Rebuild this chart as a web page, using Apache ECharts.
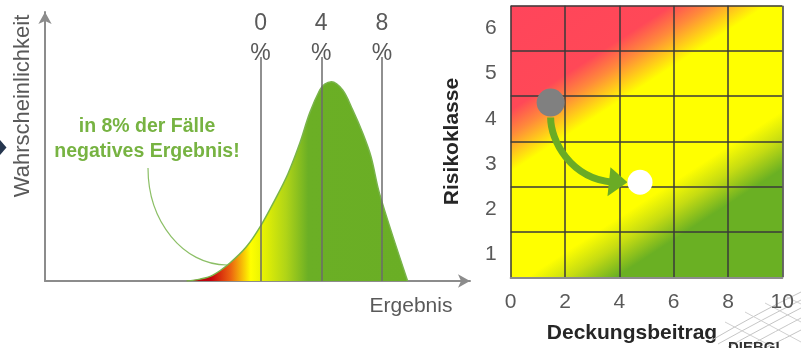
<!DOCTYPE html>
<html>
<head>
<meta charset="utf-8">
<script src="https://cdn.jsdelivr.net/npm/echarts@6/dist/echarts.min.js"></script>
<style>
  html, body { margin: 0; padding: 0; background: #fff; }
  #chart { width: 801px; height: 348px; }
</style>
</head>
<body>
<div id="chart"></div>
<script>
// Ergebnisverteilung: Ergebnis in %, Wahrscheinlichkeitsdichte in relativen Einheiten
const ergebnisX = [-4.87, -3.99, -3.14, -2.02, -0.92, 0, 0.94, 1.8, 2.59, 3.24, 3.9, 4.23, 4.67, 5.41, 6.07, 6.73, 7.28, 7.85, 9.69];
const dichte    = [0, 0.7, 2.2, 6.7, 12.8, 20.4, 30.1, 39.8, 51.3, 62.5, 71, 73.2, 74.1, 71, 63.6, 55, 46.2, 32.3, 0];
const prozentMarken = [0, 4, 8];
const hinweisZeilen = ['in 8% der Fälle', 'negatives Ergebnis!'];

// Portfolio-Matrix: Deckungsbeitrag gegen Risikoklasse
const deckungsTicks = [0, 2, 4, 6, 8, 10];
const risikoklassen = ['1', '2', '3', '4', '5', '6'];
const punktVorher  = [1.47, 4.36];   // [Deckungsbeitrag, Risikoklasse]
const punktNachher = [4.76, 2.6];

const FONT = '"Liberation Sans", Arial, sans-serif';
const GREY_TEXT = '#595959';
const AXIS_GREY = '#8c8c8c';

const chart = echarts.init(document.getElementById('chart'), null, { renderer: 'canvas' });

// Risikoklasse k liegt in der Mitte der k-ten Zeile (Zeilen von 0 bis 6)
const zeile = (k) => k - 0.5;

const verteilung = ergebnisX.map((x, i) => [x, dichte[i]]);

const meshCurve = (x1, y1, cx, cy, x2, y2, color) => ({
  type: 'bezierCurve', silent: true,
  shape: { x1, y1, cpx1: cx, cpy1: cy, x2, y2 },
  style: { fill: 'none', stroke: color, lineWidth: 1 }
});
const meshLine = (x1, y1, x2, y2, color) => ({
  type: 'line', silent: true,
  shape: { x1, y1, x2, y2 },
  style: { stroke: color, lineWidth: 1 }
});

const option = {
  animation: false,
  backgroundColor: '#ffffff',
  textStyle: { fontFamily: FONT },
  grid: [
    { left: 45, right: 331, top: 12, bottom: 67 },
    { left: 510.7, right: 18.7, top: 5.7, bottom: 70.7 }
  ],
  xAxis: [
    {
      gridIndex: 0, type: 'value', min: -14.2, max: 13.8,
      axisLine: { show: true, onZero: false, symbol: ['none', 'arrow'], symbolSize: [10, 12],
                  lineStyle: { color: AXIS_GREY, width: 2 } },
      axisTick: { show: false }, axisLabel: { show: false }, splitLine: { show: false }
    },
    {
      gridIndex: 1, type: 'value', min: 0, max: 10, interval: 2, z: 5,
      axisLine: { show: true, onZero: false, lineStyle: { color: AXIS_GREY, width: 2 } },
      axisTick: { show: false },
      axisLabel: {
        color: GREY_TEXT, fontSize: 21, margin: 14, fontFamily: FONT,
        formatter: (v) => deckungsTicks.includes(v) ? String(v) : ''
      },
      splitLine: { show: true, lineStyle: { color: '#3a3a3a', width: 1.5 } }
    }
  ],
  yAxis: [
    {
      gridIndex: 0, type: 'value', min: 0, max: 100,
      axisLine: { show: true, onZero: false, symbol: ['none', 'arrow'], symbolSize: [10, 12],
                  lineStyle: { color: AXIS_GREY, width: 2 } },
      axisTick: { show: false }, axisLabel: { show: false }, splitLine: { show: false }
    },
    {
      gridIndex: 1, type: 'value', min: 0, max: 6, interval: 1, z: 5,
      axisLine: { show: false }, axisTick: { show: false }, axisLabel: { show: false },
      splitLine: { show: true, lineStyle: { color: '#3a3a3a', width: 1.5 } }
    },
    {
      gridIndex: 1, type: 'category', data: risikoklassen, position: 'left',
      axisLine: { show: false }, axisTick: { show: false }, splitLine: { show: false },
      axisLabel: { color: GREY_TEXT, fontSize: 21, margin: 14, fontFamily: FONT },
      name: 'Risikoklasse', nameLocation: 'middle', nameGap: 48, nameRotate: 90,
      nameTextStyle: { color: '#262626', fontSize: 21, fontWeight: 'bold', fontFamily: FONT }
    }
  ],
  series: [
    {
      // Verteilungskurve mit Farbverlauf von Verlust (rot) zu Gewinn (grün)
      type: 'line', xAxisIndex: 0, yAxisIndex: 0, z: 2,
      data: verteilung, smooth: 0.35, symbol: 'none', silent: true,
      lineStyle: { color: '#79b44a', width: 1.5 },
      areaStyle: {
        opacity: 1,
        color: new echarts.graphic.LinearGradient(0, 0, 1, 0, [
          { offset: 0,    color: '#a80a0a' },
          { offset: 0.11, color: '#c5000b' },
          { offset: 0.2,  color: '#ec6510' },
          { offset: 0.29, color: '#ffff00' },
          { offset: 0.36, color: '#e0ee05' },
          { offset: 0.45, color: '#b0d417' },
          { offset: 0.55, color: '#6baf25' },
          { offset: 1,    color: '#6aae25' }
        ])
      }
    },
    {
      // Markierungen 0 %, 4 %, 8 %
      type: 'line', xAxisIndex: 0, yAxisIndex: 0, z: 3, data: [], silent: true,
      markLine: {
        silent: true, symbol: ['none', 'none'], animation: false,
        lineStyle: { color: '#6b6b6b', width: 1.5, type: 'solid' },
        label: {
          show: true, position: 'end', formatter: '{b}', distance: -12,
          color: GREY_TEXT, fontSize: 23, lineHeight: 30, fontFamily: FONT
        },
        data: prozentMarken.map((v) => [
          { coord: [v, 0], name: v + '\n%' },
          { coord: [v, 83.3] }
        ])
      }
    },
    {
      // Matrix-Hintergrund mit diagonalem Farbverlauf
      type: 'custom', xAxisIndex: 1, yAxisIndex: 1, z: 1, silent: true,
      data: [[0, 0, 10, 6]],
      renderItem: (params, api) => {
        const p0 = api.coord([api.value(0), api.value(3)]);
        const p1 = api.coord([api.value(2), api.value(1)]);
        return {
          type: 'rect',
          shape: { x: p0[0], y: p0[1], width: p1[0] - p0[0], height: p1[1] - p0[1] },
          style: {
            fill: new echarts.graphic.LinearGradient(0, 0, 0.65, 1, [
              { offset: 0,     color: '#ff455b' },
              { offset: 0.27,  color: '#ff4857' },
              { offset: 0.335, color: '#ff8a3a' },
              { offset: 0.43,  color: '#ffff00' },
              { offset: 0.73,  color: '#ffff00' },
              { offset: 0.8,   color: '#c6dc12' },
              { offset: 0.88,  color: '#6ab023' },
              { offset: 1,     color: '#6ab023' }
            ])
          }
        };
      }
    },
    {
      // Pfeil von der Ausgangs- zur Zielposition
      type: 'custom', xAxisIndex: 1, yAxisIndex: 1, z: 8, silent: true,
      data: [[punktVorher[0], zeile(punktVorher[1]), punktNachher[0], zeile(punktNachher[1])]],
      renderItem: (params, api) => {
        const a = api.coord([api.value(0), api.value(1)]);
        const b = api.coord([api.value(2), api.value(3)]);
        const s = [a[0], a[1] + 15];
        const tip = [b[0] - 12.5, b[1]];
        const base = tip[0] - 18;
        const dx = base - s[0], dy = tip[1] - s[1];
        return {
          type: 'group',
          children: [
            {
              type: 'bezierCurve',
              shape: {
                x1: s[0], y1: s[1],
                cpx1: s[0], cpy1: s[1] + 0.35 * dy,
                cpx2: s[0] + 0.33 * dx, cpy2: tip[1] - 4,
                x2: base + 3, y2: tip[1]
              },
              style: { fill: 'none', stroke: '#6aab25', lineWidth: 7 }
            },
            {
              type: 'polygon',
              shape: { points: [[tip[0], tip[1]], [base + 1, tip[1] - 15], [base - 2, tip[1] + 14]] },
              style: { fill: '#6aab25' }
            }
          ]
        };
      }
    },
    {
      type: 'scatter', xAxisIndex: 1, yAxisIndex: 1, z: 10, silent: true,
      symbolSize: 28, itemStyle: { color: '#808080', opacity: 1 },
      data: [[punktVorher[0], zeile(punktVorher[1])]]
    },
    {
      type: 'scatter', xAxisIndex: 1, yAxisIndex: 1, z: 10, silent: true,
      symbolSize: 25, itemStyle: { color: '#ffffff', opacity: 1 },
      data: [[punktNachher[0], zeile(punktNachher[1])]]
    }
  ],
  graphic: [
    {
      type: 'text', x: 23, y: 106, rotation: Math.PI / 2,
      style: { text: 'Wahrscheinlichkeit', fill: GREY_TEXT, font: '22px ' + FONT,
               textAlign: 'center', textVerticalAlign: 'middle' }
    },
    {
      type: 'text', x: 411, y: 306,
      style: { text: 'Ergebnis', fill: GREY_TEXT, font: '21px ' + FONT,
               textAlign: 'center', textVerticalAlign: 'middle' }
    },
    {
      type: 'text', x: 147, y: 127,
      style: { text: hinweisZeilen[0], fill: '#77b342', font: 'bold 19.5px ' + FONT,
               textAlign: 'center', textVerticalAlign: 'middle' }
    },
    {
      type: 'text', x: 147, y: 152,
      style: { text: hinweisZeilen[1], fill: '#77b342', font: 'bold 19.5px ' + FONT,
               textAlign: 'center', textVerticalAlign: 'middle' }
    },
    {
      // Hinweislinie zum Verlustbereich
      type: 'bezierCurve', silent: true,
      shape: { x1: 148, y1: 168, cpx1: 148, cpy1: 221.5, cpx2: 183.4, cpy2: 265, x2: 227, y2: 265 },
      style: { fill: 'none', stroke: '#8cbf66', lineWidth: 1.2 }
    },
    {
      type: 'polygon', silent: true, shape: { points: [[0, 140], [6.5, 147.5], [0, 155]] },
      style: { fill: '#26364f' }
    },
    {
      type: 'text', x: 632, y: 333,
      style: { text: 'Deckungsbeitrag', fill: '#262626', font: 'bold 21px ' + FONT,
               textAlign: 'center', textVerticalAlign: 'middle' }
    },
    {
      // Logo-Ecke unten rechts
      type: 'group', silent: true,
      children: [
        meshCurve(712, 340, 760, 312, 801, 292, '#c4c4c4'),
        meshCurve(718, 344, 765, 318, 801, 300, '#c8c8c8'),
        meshCurve(728, 347, 770, 324, 801, 308, '#c4c4c4'),
        meshCurve(745, 348, 778, 330, 801, 318, '#c8c8c8'),
        meshCurve(765, 348, 786, 338, 801, 330, '#c4c4c4'),
        meshLine(725, 322, 775, 348, '#d0d0d0'),
        meshLine(745, 312, 801, 342, '#d0d0d0'),
        meshLine(765, 303, 801, 322, '#d0d0d0'),
        meshLine(785, 296, 801, 304, '#d0d0d0'),
        { type: 'text', x: 728, y: 340,
          style: { text: 'DIEBGL', fill: '#333333', font: 'bold 15px ' + FONT, textVerticalAlign: 'top' } }
      ]
    }
  ]
};

chart.setOption(option);
</script>
</body>
</html>
